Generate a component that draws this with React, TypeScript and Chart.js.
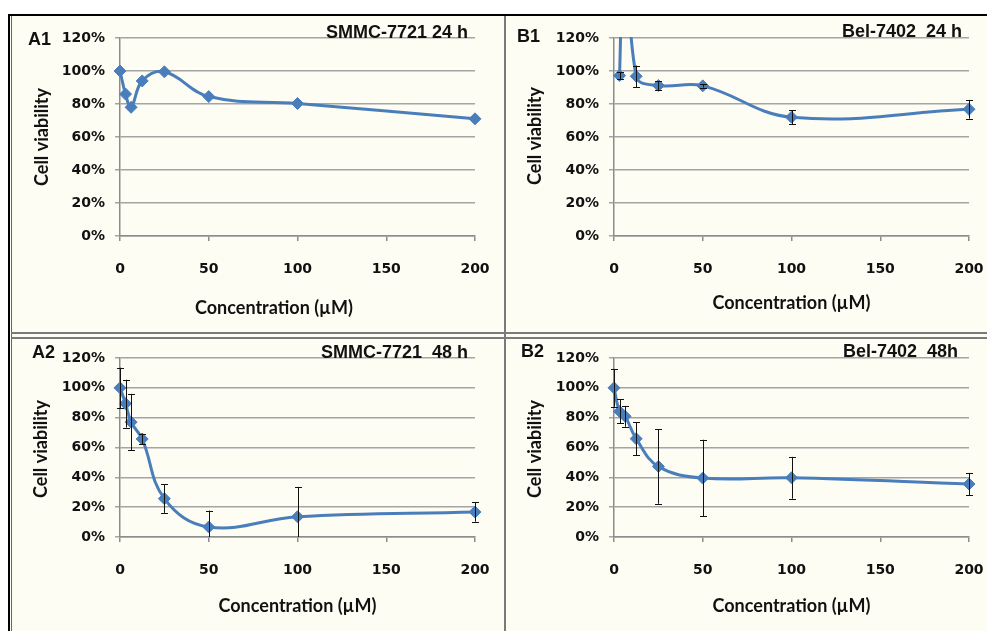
import React, { useEffect, useRef } from 'react';
import { Chart, registerables } from 'chart.js';

Chart.register(...registerables);

// ---------- data ----------
const concA1 = [0, 3.125, 6.25, 12.5, 25, 50, 100, 200];
const viabA1 = [100, 86, 78, 94, 99.5, 84.5, 80.3, 71];

const concB1 = [3.125, 6.25, 12.5, 25, 50, 100, 200];
const viabB1 = [97.2, 200, 96.8, 91.2, 91, 72, 76.8];
const errB1 = [2, 0, 6.5, 2.7, 1, 4.2, 5.7];

const concA2 = [0, 3.125, 6.25, 12.5, 25, 50, 100, 200];
const viabA2 = [100, 89.4, 77, 65.7, 25.7, 6.7, 13.6, 16.8];
const errA2 = [13.5, 16, 19, 3.6, 9.5, 11, 20, 6.5];

const concB2 = [0, 3.125, 6.25, 12.5, 25, 50, 100, 200];
const viabB2 = [100, 84.2, 80.9, 65.9, 47.3, 39.5, 39.7, 35.5];
const errB2 = [12.7, 8, 7, 11, 25, 25.7, 14, 7.5];

const yTickValues = [0, 20, 40, 60, 80, 100, 120];
const xTickValues = [0, 50, 100, 150, 200];

const xAxisTitle = 'Concentration (µM)';
const yAxisTitle = 'Cell viability';

// ---------- layout (page coordinates) ----------
type Box = { x: number; y: number; w: number; h: number };
type Area = { l: number; r: number; t: number; b: number };
type Panel = {
  key: string;
  label: string;
  title: string;
  conc: number[];
  viab: number[];
  err: number[] | null;
  box: Box;
  area: Area;
  labelPos: [number, number];
  titlePos: [number, number];
  xTitlePos: [number, number];
  yTitlePos: [number, number];
};

const panels: Panel[] = [
  {
    key: 'A1', label: 'A1', title: 'SMMC-7721 24 h',
    conc: concA1, viab: viabA1, err: null,
    box: { x: 12, y: 17, w: 492, h: 315 },
    area: { l: 120, r: 475, t: 38, b: 236 },
    labelPos: [28, 45], titlePos: [468, 38], xTitlePos: [274, 308], yTitlePos: [42, 137],
  },
  {
    key: 'B1', label: 'B1', title: 'Bel-7402  24 h',
    conc: concB1, viab: viabB1, err: errB1,
    box: { x: 506, y: 17, w: 481, h: 315 },
    area: { l: 614, r: 969, t: 38, b: 236 },
    labelPos: [517, 42], titlePos: [962, 37], xTitlePos: [791.5, 303], yTitlePos: [535, 136],
  },
  {
    key: 'A2', label: 'A2', title: 'SMMC-7721  48 h',
    conc: concA2, viab: viabA2, err: errA2,
    box: { x: 12, y: 339, w: 492, h: 292 },
    area: { l: 120, r: 475, t: 358, b: 537 },
    labelPos: [32, 358], titlePos: [468, 358], xTitlePos: [297.5, 606.5], yTitlePos: [41.5, 449],
  },
  {
    key: 'B2', label: 'B2', title: 'Bel-7402  48h',
    conc: concB2, viab: viabB2, err: errB2,
    box: { x: 506, y: 339, w: 481, h: 292 },
    area: { l: 614, r: 969, t: 358, b: 537 },
    labelPos: [521, 357], titlePos: [958, 357], xTitlePos: [791.5, 606.5], yTitlePos: [535, 449],
  },
];

const LINE_COLOR = '#4a7ebb';
const BG = '#fdfdf4';

const errorBarPlugin = {
  id: 'errorBars',
  afterDatasetsDraw(chart: any) {
    const ctx = chart.ctx;
    const area = chart.chartArea;
    const xs = chart.scales.x;
    const ys = chart.scales.y;
    ctx.save();
    ctx.beginPath();
    ctx.rect(area.left - 10, area.top, area.right - area.left + 20, area.bottom - area.top);
    ctx.clip();
    ctx.strokeStyle = '#111';
    ctx.lineWidth = 1;
    chart.data.datasets.forEach((ds: any) => {
      const errs: number[] | null = ds.errors;
      if (!errs) return;
      ds.data.forEach((p: any, i: number) => {
        const e = errs[i];
        if (!e) return;
        const px = Math.round(xs.getPixelForValue(p.x)) + 0.5;
        const yTop = ys.getPixelForValue(p.y + e);
        const yBot = ys.getPixelForValue(p.y - e);
        ctx.beginPath();
        ctx.moveTo(px, yTop);
        ctx.lineTo(px, yBot);
        ctx.moveTo(px - 3.5, Math.round(yTop) + 0.5);
        ctx.lineTo(px + 3.5, Math.round(yTop) + 0.5);
        ctx.moveTo(px - 3.5, Math.round(yBot) + 0.5);
        ctx.lineTo(px + 3.5, Math.round(yBot) + 0.5);
        ctx.stroke();
      });
    });
    ctx.restore();
  },
};

const textPlugin = {
  id: 'panelTexts',
  afterDraw(chart: any) {
    const o = chart.options.plugins.panelTexts;
    if (!o) return;
    const p: Panel = o.panel;
    const ctx = chart.ctx;
    const bx = p.box.x;
    const by = p.box.y;
    ctx.save();
    ctx.fillStyle = '#111';
    ctx.font = 'bold 18px "Liberation Sans", Arial, sans-serif';
    ctx.textAlign = 'left';
    ctx.textBaseline = 'alphabetic';
    ctx.fillText(p.label, p.labelPos[0] - bx, p.labelPos[1] - by);
    ctx.textAlign = 'right';
    ctx.fillText(p.title, p.titlePos[0] - bx, p.titlePos[1] - by);
    ctx.font = 'bold 18px Lato, "Open Sans", sans-serif';
    ctx.textAlign = 'center';
    ctx.textBaseline = 'middle';
    ctx.fillText(xAxisTitle, p.xTitlePos[0] - bx, p.xTitlePos[1] - by);
    ctx.translate(p.yTitlePos[0] - bx, p.yTitlePos[1] - by);
    ctx.rotate(-Math.PI / 2);
    ctx.fillText(yAxisTitle, 0, 0);
    ctx.restore();
  },
};

function PanelChart({ panel }: { panel: Panel }) {
  const ref = useRef<HTMLCanvasElement | null>(null);
  useEffect(() => {
    if (!ref.current) return;
    const { box, area } = panel;
    const points = panel.conc.map((c, i) => ({ x: c, y: panel.viab[i] }));
    const tickFont = { family: '"DejaVu Sans", Verdana, sans-serif', size: 14, weight: 'bold' as const };
    const chart = new Chart(ref.current, {
      type: 'line',
      data: {
        datasets: [
          {
            data: points,
            errors: panel.err,
            borderColor: LINE_COLOR,
            backgroundColor: LINE_COLOR,
            borderWidth: 3,
            tension: 0.4,
            clip: { left: 10, right: 10, top: 1, bottom: 10 },
            pointStyle: 'rectRot',
            pointRadius: (c: any) => (c.raw && c.raw.y > 120 ? 0 : 6),
            pointBorderWidth: 1,
            pointBorderColor: LINE_COLOR,
            pointBackgroundColor: LINE_COLOR,
            fill: false,
          } as any,
        ],
      },
      options: {
        animation: false,
        responsive: false,
        maintainAspectRatio: false,
        events: [],
        layout: {
          padding: {
            left: 0,
            bottom: 0,
            top: area.t - box.y,
            right: box.x + box.w - area.r,
          },
        },
        plugins: {
          legend: { display: false },
          tooltip: { enabled: false },
          title: { display: false },
          panelTexts: { panel },
        } as any,
        scales: {
          x: {
            type: 'linear',
            min: 0,
            max: 200,
            afterBuildTicks: (s: any) => {
              s.ticks = xTickValues.map((v) => ({ value: v }));
            },
            afterFit: (s: any) => {
              s.height = box.y + box.h - area.b;
              s.paddingLeft = 0;
              s.paddingRight = 0;
            },
            grid: {
              display: true,
              drawOnChartArea: false,
              drawTicks: true,
              tickLength: 5,
              color: '#8c8c8c',
              lineWidth: 1.5,
            },
            border: { display: true, color: '#8c8c8c', width: 1.5 },
            ticks: {
              color: '#111',
              font: tickFont,
              padding: 20,
              maxRotation: 0,
              autoSkip: false,
              callback: (v: any) => String(v),
            },
          },
          y: {
            type: 'linear',
            min: 0,
            max: 120,
            afterBuildTicks: (s: any) => {
              s.ticks = yTickValues.map((v) => ({ value: v }));
            },
            afterFit: (s: any) => {
              s.width = area.l - box.x;
              s.paddingTop = 0;
              s.paddingBottom = 0;
            },
            grid: {
              display: true,
              drawOnChartArea: true,
              drawTicks: true,
              tickLength: 5,
              color: '#a4a4a4',
              lineWidth: 1.5,
            },
            border: { display: true, color: '#8c8c8c', width: 1.5 },
            ticks: {
              color: '#111',
              font: tickFont,
              padding: 10,
              autoSkip: false,
              callback: (v: any) => `${v}%`,
            },
          },
        },
      } as any,
      plugins: [errorBarPlugin, textPlugin],
    });
    return () => chart.destroy();
  }, [panel]);

  return (
    <div
      style={{
        position: 'absolute',
        left: panel.box.x,
        top: panel.box.y,
        width: panel.box.w,
        height: panel.box.h,
        background: BG,
      }}
    >
      <canvas
        ref={ref}
        width={panel.box.w}
        height={panel.box.h}
        style={{ display: 'block', width: panel.box.w, height: panel.box.h }}
      />
    </div>
  );
}

export default function App() {
  return (
    <div
      style={{
        position: 'fixed',
        left: 0,
        top: 0,
        width: 987,
        height: 631,
        background: '#ffffff',
        overflow: 'hidden',
      }}
    >
      <div style={{ position: 'absolute', left: 8, top: 14, width: 979, height: 617, background: BG }} />
      <div style={{ position: 'absolute', left: 8, top: 14, width: 979, height: 2, background: '#000' }} />
      <div style={{ position: 'absolute', left: 8, top: 14, width: 2, height: 617, background: '#000' }} />
      <div style={{ position: 'absolute', left: 11, top: 16, width: 1, height: 615, background: '#666' }} />
      {panels.map((p) => (
        <PanelChart key={p.key} panel={p} />
      ))}
      <div style={{ position: 'absolute', left: 504, top: 16, width: 2, height: 615, background: '#7a7a7a' }} />
      <div style={{ position: 'absolute', left: 11, top: 332, width: 976, height: 1.5, background: '#7a7a7a' }} />
      <div style={{ position: 'absolute', left: 11, top: 337, width: 976, height: 1.5, background: '#7a7a7a' }} />
    </div>
  );
}
